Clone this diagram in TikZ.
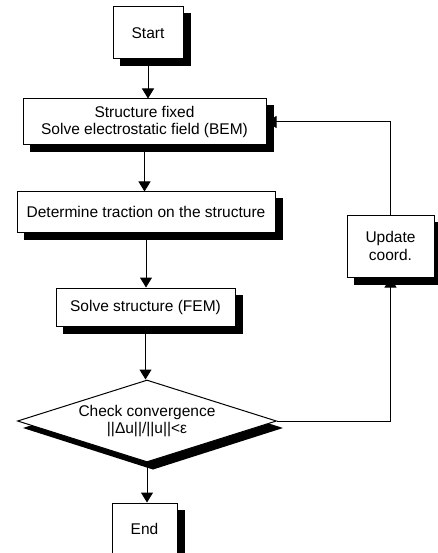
\documentclass[tikz,border=0pt]{standalone}
\usepackage{fontspec}
\setmainfont{Liberation Sans}
\usetikzlibrary{arrows.meta,shapes.geometric,backgrounds,calc}

\begin{document}
\begin{tikzpicture}[x=1pt,y=-1pt,
	font=\fontsize{15.5}{17.5}\selectfont,
	box/.style={draw,fill=white,line width=1pt,align=center,inner sep=0pt},
	flow/.style={-{Triangle[width=12pt,length=10pt]},line width=1pt}]
	\useasboundingbox (0,0) rectangle (438,553);
	\node[box,minimum width=70pt,minimum height=52pt] (start) at (148,33) {Start};
	\node[box,minimum width=243pt,minimum height=46pt] (fixed) at (144.5,122)
		{Structure fixed\\Solve electrostatic field (BEM)};
	\node[box,minimum width=258pt,minimum height=40pt] (traction) at (146,212)
		{Determine traction on the structure};
	\node[box,minimum width=179pt,minimum height=38pt] (fem) at (145.5,307)
		{Solve structure (FEM)};
	\node[box,diamond,aspect=3.16,minimum width=259pt,minimum height=82pt] (check) at (147,421)
		{Check convergence\\||Δu||/||u||<ε};
	\node[box,minimum width=65pt,minimum height=52pt] (end) at (144.5,529) {End};
	\node[box,minimum width=87pt,minimum height=62pt] (update) at (390.5,246)
		{Update\\coord.};
	\begin{scope}[on background layer]
		\foreach \n in {start,fixed,traction,fem,end,update}
			\fill ($(\n.north west)+(7,7)$) rectangle ($(\n.south east)+(7,7)$);
		\fill ($(check.north)+(6,7)$) -- ($(check.east)+(6,7)$) -- ($(check.south)+(6,7)$)
			-- ($(check.west)+(6,7)$) -- cycle;
	\end{scope}
	\draw[flow] (start) -- (start |- fixed.north);
	\draw[flow] (fixed.south) -- (fixed.south |- traction.north);
	\draw[flow] (traction.south) -- (traction.south |- fem.north);
	\draw[flow] (fem.south) -- (fem.south |- check.north);
	\draw[flow] (check.south) -- (check.south |- end.north);
	\draw[flow] (check.east) -| (update.south);
	\draw[flow] (update.north) |- (fixed.east);
\end{tikzpicture}
\end{document}
